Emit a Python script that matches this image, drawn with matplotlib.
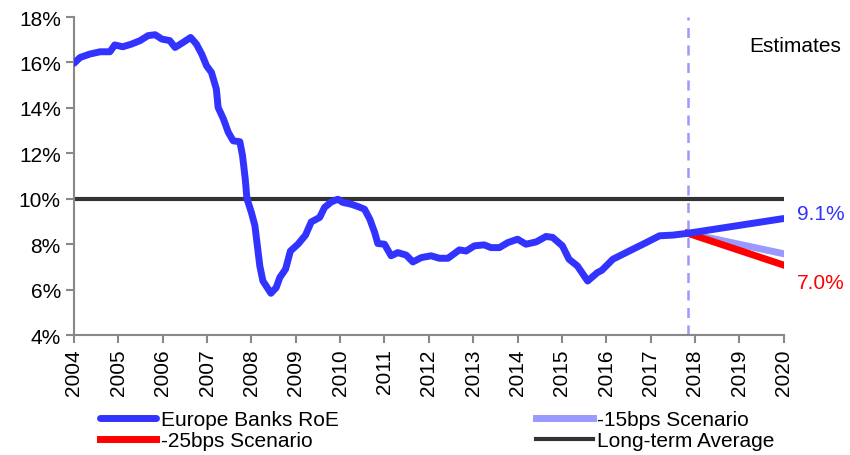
import matplotlib.pyplot as plt
from matplotlib.ticker import FuncFormatter

plt.rcParams['font.family'] = ['Liberation Sans', 'DejaVu Sans']

# historical Europe banks RoE (% )
roe_x = [2004.0, 2004.14, 2004.36, 2004.59, 2004.81, 2004.92, 2005.1, 2005.3, 2005.49,
         2005.67, 2005.83, 2005.98, 2006.16, 2006.28, 2006.46, 2006.63, 2006.76, 2006.88,
         2006.99, 2007.1, 2007.21, 2007.25, 2007.37, 2007.48, 2007.59, 2007.74, 2007.8,
         2007.86, 2007.9, 2008.0, 2008.08, 2008.19, 2008.26, 2008.44, 2008.56, 2008.64,
         2008.77, 2008.88, 2009.05, 2009.22, 2009.35, 2009.54, 2009.65, 2009.8, 2009.95,
         2010.06, 2010.25, 2010.4, 2010.55, 2010.67, 2010.78, 2010.85, 2011.0, 2011.15,
         2011.3, 2011.49, 2011.64, 2011.83, 2012.05, 2012.24, 2012.43, 2012.69, 2012.84,
         2013.03, 2013.25, 2013.4, 2013.59, 2013.78, 2014.0, 2014.19, 2014.42, 2014.64,
         2014.79, 2015.01, 2015.16, 2015.35, 2015.58, 2015.8, 2015.9, 2016.15, 2016.6,
         2016.9, 2017.2, 2017.5, 2017.84]
roe_y = [15.96, 16.22, 16.37, 16.47, 16.47, 16.77, 16.69, 16.81, 16.96,
         17.18, 17.22, 17.03, 16.96, 16.66, 16.88, 17.1, 16.81, 16.37,
         15.85, 15.56, 14.83, 14.02, 13.51, 12.92, 12.55, 12.51, 11.9,
         10.9, 10.0, 9.4, 8.81, 7.04, 6.38, 5.84, 6.09, 6.53,
         6.9, 7.7, 8.0, 8.4, 8.98, 9.18, 9.62, 9.86, 9.98,
         9.84, 9.76, 9.66, 9.54, 9.1, 8.51, 8.03, 8.0, 7.49,
         7.63, 7.52, 7.22, 7.41, 7.49, 7.38, 7.38, 7.75, 7.7,
         7.93, 7.97, 7.85, 7.85, 8.07, 8.22, 8.0, 8.1, 8.34,
         8.3, 7.93, 7.34, 7.04, 6.38, 6.75, 6.85, 7.34, 7.78,
         8.07, 8.37, 8.4, 8.48]

# estimates
est_x = [2017.84, 2020.0]
base_y = [8.48, 9.13]
bps15_y = [8.48, 7.58]
bps25_y = [8.48, 7.08]

lt_avg = 10.0
est_start = 2017.84

fig = plt.figure(figsize=(8.5, 4.56), dpi=100)
ax = fig.add_axes([0.087, 0.263, 0.835, 0.6975])

ax.plot([2004, 2020], [lt_avg, lt_avg], color='#333333', lw=3, label='Long-term Average', zorder=2)
ax.plot(est_x, bps15_y, color='#9999ff', lw=5, label='-15bps Scenario', zorder=3)
ax.plot(est_x, bps25_y, color='#ff0000', lw=5, label='-25bps Scenario', zorder=4)
ax.plot(roe_x + est_x[1:], roe_y + base_y[1:], color='#3333ff', lw=5,
        label='Europe Banks RoE', zorder=5, solid_capstyle='round')
ax.axvline(est_start, color='#9999ff', lw=1.8, ls=(0, (4, 3)), zorder=1)

ax.text(2020.3, base_y[1] + 0.22, '9.1%', color='#3333ff', fontsize=15, va='center', ha='left')
ax.text(2020.3, 6.3, '7.0%', color='#ff0000', fontsize=15, va='center', ha='left')
fig.text(0.989, 0.898, 'Estimates', fontsize=15, ha='right', va='center')

ax.set_xlim(2004, 2020)
ax.set_ylim(4, 18)
ax.set_xticks(range(2004, 2021))
ax.set_xticklabels([str(y) for y in range(2004, 2021)], rotation=90, fontsize=15)
ax.set_yticks(range(4, 19, 2))
ax.yaxis.set_major_formatter(FuncFormatter(lambda v, p: '%d%%' % v))
ax.tick_params(axis='y', labelsize=15)
ax.tick_params(direction='out', length=6, width=1.5, color='#888888')
for s in ['top', 'right']:
    ax.spines[s].set_visible(False)
for s in ['left', 'bottom']:
    ax.spines[s].set_color('#888888')
    ax.spines[s].set_linewidth(1.5)

h, l = ax.get_legend_handles_labels()
order = [3, 2, 1, 0]
ax.legend([h[i] for i in order], [l[i] for i in order], ncol=2, loc='upper left',
          bbox_to_anchor=(0.037, -0.235), frameon=False, fontsize=15,
          handlelength=2.7, handletextpad=0.2, columnspacing=9.5, labelspacing=0.12,
          borderaxespad=0, borderpad=0)

fig.savefig('out.png', dpi=100)
